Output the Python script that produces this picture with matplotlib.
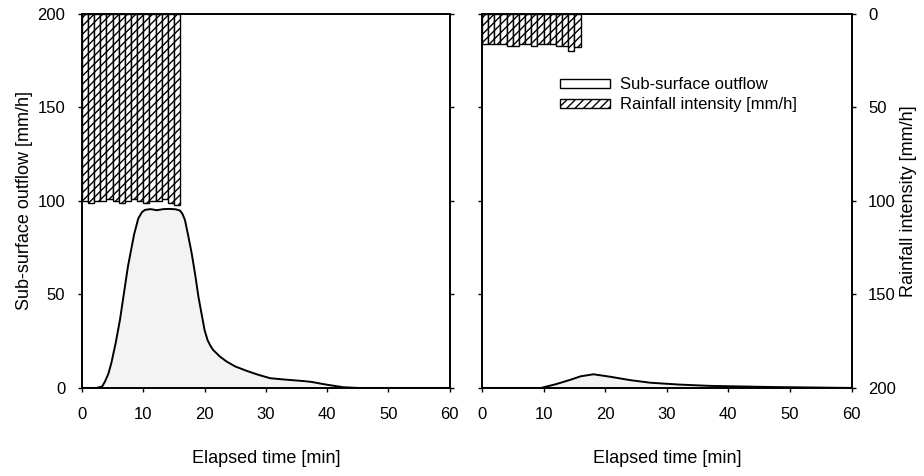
import numpy as np
import matplotlib.pyplot as plt
from matplotlib.patches import Patch

plt.rcParams['font.family'] = ['Liberation Sans', 'DejaVu Sans']
plt.rcParams['hatch.linewidth'] = 1.0

# rainfall, 1-min blocks
rain_t = np.arange(0, 16)
rain_left = [100, 101, 100, 100, 99, 100, 101, 100, 99, 100, 101, 100, 100, 99, 101, 102]
rain_right = [16, 16, 16, 16, 17, 17, 16, 16, 17, 16, 16, 16, 17, 17, 20, 18]

# sub-surface outflow
t_left = [0, 2.4, 3.3, 3.75, 4.3, 4.8, 5.5, 6.2, 7.5, 8.5, 9.2, 9.8, 10.3, 11.2, 12.2,
          13.3, 14.3, 15.3, 16, 16.4, 16.8, 17.3, 17.9, 18.5, 19, 20, 20.5, 21, 21.4,
          22.5, 23.6, 25, 26.9, 28.8, 30.7, 33, 36.1, 37.5, 39.3, 41, 42.6, 45, 60]
q_left = [0, 0, 0.8, 3.4, 7.5, 13.4, 24, 36.4, 64.9, 82, 90.7, 94, 95.2, 95.6, 95.0,
          95.6, 95.7, 95.5, 94.8, 93, 89.8, 82, 72, 60, 48.8, 31, 25.5, 22.3, 20.3,
          16.8, 14.1, 11.5, 9.1, 7, 5.2, 4.5, 3.7, 3.2, 2.1, 1.2, 0.4, 0, 0]
t_right = [0, 9.6, 12, 14.3, 16, 18.1, 20.8, 24, 27.3, 32, 37, 46.8, 60]
q_right = [0, 0, 2.0, 4.3, 6.2, 7.3, 6.0, 4.2, 2.8, 1.8, 1.1, 0.5, 0]

xticks = [0, 10, 20, 30, 40, 50, 60]
yticks = [0, 50, 100, 150, 200]

fig = plt.figure(figsize=(9.24, 4.76), dpi=100)
ax1 = fig.add_axes([0.0887, 0.185, 0.398, 0.786])
ax2 = fig.add_axes([0.5216, 0.185, 0.400, 0.786])

for ax, t, q in [(ax1, t_left, q_left), (ax2, t_right, q_right)]:
    ax.fill_between(t, q, 0, color='#f3f3f3', lw=0)
    ax.plot(t, q, color='black', lw=1.4)
    ax.set_xlim(0, 60)
    ax.set_ylim(0, 200)
    ax.set_xticks(xticks)
    ax.set_yticks(yticks)
    ax.tick_params(direction='out', length=3, width=1, labelsize=12, colors='black')
    ax.tick_params(axis='x', pad=11)
    ax.tick_params(axis='y', pad=9)
    ax.set_xlabel('Elapsed time [min]', fontsize=13, labelpad=20)
    for s in ax.spines.values():
        s.set_linewidth(1.2)

ax1.set_ylabel('Sub-surface outflow [mm/h]', fontsize=13, labelpad=3)
ax2.set_yticklabels([])

tw1 = ax1.twinx()
tw2 = ax2.twinx()
for tw, r in [(tw1, rain_left), (tw2, rain_right)]:
    tw.bar(rain_t, r, width=1, align='edge', facecolor='white', edgecolor='black',
           hatch='////', lw=1.0)
    tw.set_ylim(200, 0)
    tw.set_yticks(yticks)
    tw.tick_params(direction='out', length=3, width=1, labelsize=12, colors='black',
                   pad=9)
    for s in tw.spines.values():
        s.set_linewidth(1.2)

tw1.set_yticklabels([])
tw2.set_ylabel('Rainfall intensity [mm/h]', fontsize=13, labelpad=3)

handles = [Patch(facecolor='white', edgecolor='black', lw=1),
           Patch(facecolor='white', edgecolor='black', hatch='////', lw=1)]
tw2.legend(handles, ['Sub-surface outflow', 'Rainfall intensity [mm/h]'],
           loc='upper left', bbox_to_anchor=(0.17, 0.87), frameon=False,
           fontsize=12, handlelength=3.0, handleheight=0.5, labelspacing=0.3,
           handletextpad=0.6)

fig.savefig('out.png', dpi=100)
